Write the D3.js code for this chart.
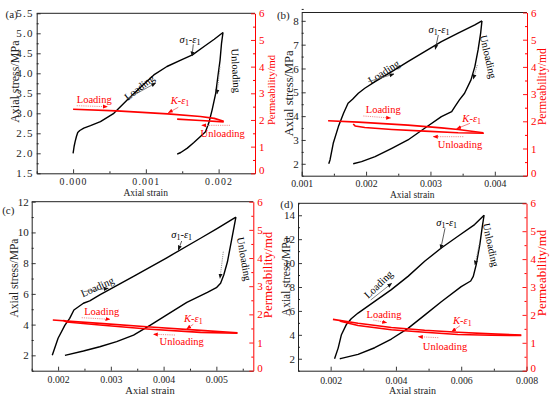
<!DOCTYPE html>
<html><head><meta charset="utf-8">
<script src="https://cdn.jsdelivr.net/npm/d3@7"></script>
<style>
body{margin:0;background:#fff}
svg{display:block}
text{font-family:"Liberation Serif","Times New Roman",serif}
</style>
</head><body>
<svg id="chart" width="550" height="397"></svg>
<script>
// ---------------- DATA (strain, axial stress MPa) / (strain, permeability md) ----------------
const aSigmaLoad = [[0,2.0],[0.000014,2.17],[0.000028,2.29],[0.000046,2.42],[0.000064,2.52],[0.000092,2.57],[0.000147,2.63],[0.000239,2.69],[0.000376,2.79],[0.00056,3.0],[0.000743,3.33],[0.000927,3.65],[0.00111,3.96],[0.00129,4.17],[0.00148,4.33],[0.00164,4.46],[0.0018,4.67],[0.00194,4.85],[0.00206,5.02]];
const aSigmaUnload = [[0.00206,5.02],[0.00204,4.75],[0.00202,4.33],[0.00199,3.92],[0.00196,3.5],[0.00191,3.08],[0.00187,2.79],[0.00182,2.54],[0.00175,2.42],[0.00166,2.27],[0.00157,2.13],[0.00148,2.02],[0.00143,1.98]];
const aKLoad = [[0,2.40],[0.0006,2.34],[0.0013,2.23],[0.00175,2.13],[0.00194,2.06],[0.00207,1.95]];
const aKUnload = [[0.00207,1.93],[0.00175,1.98],[0.00143,2.03]];

const bSigmaLoad = [[0.00142,2.0],[0.00144,2.16],[0.00149,2.86],[0.00157,3.56],[0.00165,4.12],[0.00172,4.54],[0.00179,4.71],[0.00188,4.96],[0.00198,5.17],[0.00214,5.45],[0.0024,5.87],[0.00265,6.29],[0.00291,6.71],[0.00317,7.13],[0.00343,7.48],[0.00369,7.83],[0.0038,8.0]];
const bSigmaUnload = [[0.0038,8.0],[0.00378,7.48],[0.00374,6.78],[0.00369,6.08],[0.00363,5.52],[0.00353,4.96],[0.00345,4.68],[0.00338,4.40],[0.00333,4.19],[0.00317,3.98],[0.00291,3.49],[0.00265,3.0],[0.0024,2.65],[0.00214,2.30],[0.00193,2.09],[0.0018,2.0]];
const bKLoad = [[0.00141,2.02],[0.00188,1.97],[0.00265,1.86],[0.00317,1.76],[0.00343,1.70],[0.00382,1.58]];
const bKUnload = [[0.00383,1.56],[0.00343,1.58],[0.00291,1.64],[0.0024,1.70],[0.00198,1.77],[0.00183,1.83],[0.0018,1.90]];

const cSigmaLoad = [[0.00189,2.0],[0.002,3.11],[0.00213,3.97],[0.00222,4.41],[0.0023,4.95],[0.00236,5.10],[0.00248,5.39],[0.0026,5.54],[0.00279,5.93],[0.00343,7.14],[0.00406,8.35],[0.0047,9.62],[0.00502,10.27],[0.00537,11.0]];
const cSigmaUnload = [[0.00537,11.0],[0.00533,10.27],[0.00527,9.18],[0.00521,8.09],[0.00514,7.23],[0.00508,6.69],[0.005,6.40],[0.00483,6.10],[0.00444,5.45],[0.00406,4.63],[0.00375,3.97],[0.00343,3.32],[0.00311,2.89],[0.00279,2.56],[0.00248,2.28],[0.00213,2.0]];
const cKLoad = [[0.0019,1.80],[0.00279,1.68],[0.00375,1.55],[0.0047,1.43],[0.0054,1.35]];
const cKUnload = [[0.0054,1.33],[0.0047,1.36],[0.00375,1.47],[0.00279,1.62],[0.00216,1.73],[0.0021,1.79]];

const dSigmaLoad = [[0.00212,2.0],[0.00223,2.89],[0.00233,4.01],[0.00248,4.85],[0.00263,5.35],[0.00284,5.82],[0.00335,6.80],[0.00386,7.78],[0.00437,8.89],[0.00488,10.15],[0.00539,11.26],[0.0059,12.24],[0.00641,13.22],[0.0067,14.0]];
const dSigmaUnload = [[0.0067,14.0],[0.00664,12.94],[0.00657,11.55],[0.00646,9.87],[0.00637,8.89],[0.00629,8.5],[0.006,8.03],[0.00539,6.77],[0.00488,5.65],[0.00437,4.54],[0.00386,3.65],[0.00335,2.92],[0.00284,2.36],[0.00233,2.03],[0.00228,2.0]];
const dKLoad = [[0.00207,1.84],[0.00284,1.70],[0.00386,1.55],[0.00488,1.45],[0.0059,1.38],[0.00692,1.32],[0.00784,1.28]];
const dKUnload = [[0.00784,1.26],[0.00692,1.27],[0.0059,1.30],[0.00488,1.38],[0.00386,1.47],[0.00284,1.62],[0.00233,1.76],[0.00228,1.80]];

// tick values
const aXTicks = [0, 0.001, 0.002];
const aYTicks = [1.5, 2.0, 2.5, 3.0, 3.5, 4.0, 4.5, 5.0, 5.5];
const bXTicks = [0.001, 0.002, 0.003, 0.004];
const bYTicks = [2, 3, 4, 5, 6, 7, 8];
const cXTicks = [0.002, 0.003, 0.004, 0.005];
const cYTicks = [2, 4, 6, 8, 10, 12];
const dXTicks = [0.002, 0.004, 0.006, 0.008];
const dYTicks = [2, 4, 6, 8, 10, 12, 14];
const kTicks = [0, 1, 2, 3, 4, 5, 6];

// ---------------- LAYOUT ----------------
const panels = [
  {label:"(a)", lab:[11.7,14.3], x0:36.7, x1:255, y0:13.3, y1:173.3, xd:[-0.0005,0.0025], yd:[1.5,5.5],
   xt:aXTicks, xstep:0.0005, yt:aYTicks, ystep:0.25, yfmt:".1f", tickLS:1.2, xpad:5,
   sl:aSigmaLoad, su:aSigmaUnload, kl:aKLoad, ku:aKUnload,
   yTitle:[15,81.7,12], pTitle:[271,90,10.5], xTitle:[145.7,192.5,9.5],
   ann:[
     {t:"sig", x:190, y:39.5},
     {a:"blk", p:[193.3,44.3,192,56]},
     {t:"Loading", x:139.3, y:87.3, r:-38, c:"#000"},
     {a:"gray", p:[126.7,99,155.7,83]},
     {t:"Unloading", x:236, y:70.7, r:87, c:"#000"},
     {a:"grayDot", p:[220,66.7,217,94]},
     {t:"Loading", x:94.3, y:99, r:0, c:"#f00"},
     {a:"redDot", p:[76.7,105.7,107.3,106.7]},
     {t:"K", x:180, y:100},
     {a:"red", p:[178.3,107.3,168.3,112.7]},
     {t:"Unloading", x:222.7, y:133.3, r:0, c:"#f00"},
     {a:"redDot", p:[230,125.3,201.7,125.3]}
   ]},
  {label:"(b)", lab:[283.3,15], x0:301.7, x1:527, y0:12.5, y1:175.7, xd:[0.001,0.0045], yd:[1.5,8.35],
   xt:bXTicks, xstep:0.0005, yt:bYTicks, ystep:0.5, yfmt:"d", tickLS:0, xpad:4,
   sl:bSigmaLoad, su:bSigmaUnload, kl:bKLoad, ku:bKUnload,
   yTitle:[289,93.3,12.5], pTitle:[541.7,86.7,11.5], xTitle:[412.3,195,9.5],
   ann:[
     {t:"sig", x:439, y:29.3},
     {a:"blk", p:[438.3,35,435.3,49.3]},
     {t:"Loading", x:383.7, y:71.7, r:-33, c:"#000"},
     {a:"gray", p:[368.3,81.7,394,74]},
     {t:"Unloading", x:488.3, y:56.7, r:77, c:"#000"},
     {a:"grayDot", p:[477.3,65,473.3,79]},
     {t:"Loading", x:383.3, y:109.3, r:0, c:"#f00"},
     {a:"redDot", p:[363.3,116,390.7,118]},
     {t:"K", x:471.7, y:118.3},
     {a:"red", p:[470,123.3,456.7,128.7]},
     {t:"Unloading", x:460, y:144, r:0, c:"#f00"},
     {a:"redDot", p:[463.3,136.7,433.3,136.7]}
   ]},
  {label:"(c)", lab:[8.3,210], x0:31.7, x1:253.3, y0:201.7, y1:370.7, xd:[0.0015,0.0057], yd:[1,12],
   xt:cXTicks, xstep:0.0005, yt:cYTicks, ystep:1, yfmt:"d", tickLS:0, xpad:5,
   sl:cSigmaLoad, su:cSigmaUnload, kl:cKLoad, ku:cKUnload,
   yTitle:[14,278,11.5], pTitle:[267,275,13], xTitle:[150,390,10.5],
   ann:[
     {t:"sig", x:181.7, y:234.3},
     {a:"blk", p:[181.7,241,178.3,250]},
     {t:"Loading", x:97.3, y:286.7, r:-24, c:"#000"},
     {a:"gray", p:[83.3,291.7,108.3,288.3]},
     {t:"Unloading", x:244.3, y:259, r:80, c:"#000"},
     {a:"grayDot", p:[223.3,251.7,220,278.3]},
     {t:"Loading", x:101.7, y:311, r:0, c:"#f00"},
     {a:"redDot", p:[81.7,317.7,110,319.3]},
     {t:"K", x:193.3, y:318.3},
     {a:"red", p:[193.3,324.3,186.7,329]},
     {t:"Unloading", x:181.7, y:341.7, r:0, c:"#f00"},
     {a:"redDot", p:[175,335,153.3,334.3]}
   ]},
  {label:"(d)", lab:[286.7,204.3], x0:298, x1:526.5, y0:203.3, y1:370.7, xd:[0.001,0.008], yd:[1,15],
   xt:dXTicks, xstep:0.001, yt:dYTicks, ystep:1, yfmt:"d", tickLS:0, xpad:6,
   sl:dSigmaLoad, su:dSigmaUnload, kl:dKLoad, ku:dKUnload,
   yTitle:[285.7,276.7,11.5], pTitle:[541.7,273,13], xTitle:[412.5,390.5,10],
   ann:[
     {t:"sig", x:446.7, y:222.3},
     {a:"blk", p:[445,228.3,440.7,249]},
     {t:"Loading", x:378.3, y:284.3, r:-44, c:"#000"},
     {a:"gray", p:[370.7,300,391.7,283.3]},
     {t:"Unloading", x:491, y:245, r:78, c:"#000"},
     {a:"grayDot", p:[479,245,475,265]},
     {t:"Loading", x:384, y:314, r:0, c:"#f00"},
     {a:"redDot", p:[373.3,320,386.7,322.7]},
     {t:"K", x:462.3, y:320},
     {a:"red", p:[460,325.7,451.7,331.7]},
     {t:"Unloading", x:445, y:346.7, r:0, c:"#f00"},
     {a:"redDot", p:[438.3,337.7,418.3,336.7]}
   ]}
];

const svg = d3.select("#chart");
const defs = svg.append("defs");
function marker(id, color){
  defs.append("marker").attr("id",id).attr("viewBox","0 0 10 10").attr("refX",9).attr("refY",5)
    .attr("markerWidth",5).attr("markerHeight",5).attr("markerUnits","userSpaceOnUse").attr("orient","auto")
    .append("path").attr("d","M0,1 L10,5 L0,9 z").attr("fill",color);
}
marker("mBlk","#111"); marker("mRed","#f00");
const arrowStyles = {
  blk:{stroke:"#333", dash:null, m:"mBlk", w:0.8},
  gray:{stroke:"#666", dash:null, m:"mBlk", w:0.8},
  grayDot:{stroke:"#888", dash:"1.2,1", m:"mBlk", w:0.9},
  red:{stroke:"#f06060", dash:null, m:"mRed", w:0.8},
  redDot:{stroke:"#f08080", dash:"1.2,1", m:"mRed", w:0.9}
};

function rangeExcl(d0, d1, step, majors){
  const out = [];
  const n = Math.round((d1 - d0)/step);
  for(let i=0;i<=n;i++){
    const v = d0 + i*step;
    if(!majors.some(m => Math.abs(m - v) < step*1e-3)) out.push(v);
  }
  return out;
}

panels.forEach(p => {
  const g = svg.append("g");
  const x = d3.scaleLinear().domain(p.xd).range([p.x0, p.x1]);
  const y = d3.scaleLinear().domain(p.yd).range([p.y1, p.y0]);
  const yr = d3.scaleLinear().domain([0,6]).range([p.y1, p.y0]);

  const styleAxis = (sel, color, fs) => {
    sel.attr("font-family", null).attr("font-size", null);
    sel.selectAll("path.domain").attr("stroke", color).attr("stroke-width", 1);
    sel.selectAll(".tick line").attr("stroke", color).attr("stroke-width", 0.9);
    sel.selectAll(".tick text").attr("fill", color).style("font-size", fs + "px")
      .style("font-family", '"Liberation Serif","Times New Roman",serif')
      .style("letter-spacing", p.tickLS + "px");
  };

  // top frame
  g.append("line").attr("x1", p.x0).attr("x2", p.x1).attr("y1", p.y0).attr("y2", p.y0)
    .attr("stroke", "#222").attr("stroke-width", 1);

  // minor ticks
  const xMinor = rangeExcl(p.xd[0], p.xd[1], p.xstep, p.xt);
  const yMinor = rangeExcl(p.yd[0], p.yd[1], p.ystep, p.yt);
  const kMinor = rangeExcl(0, 6, 0.5, kTicks);
  g.append("g").attr("transform", `translate(0,${p.y1})`)
    .call(d3.axisBottom(x).tickValues(xMinor).tickFormat("").tickSize(-2).tickSizeOuter(0))
    .call(s => { s.select(".domain").remove(); s.selectAll("line").attr("stroke","#222"); });
  g.append("g").attr("transform", `translate(${p.x0},0)`)
    .call(d3.axisLeft(y).tickValues(yMinor).tickFormat("").tickSize(-2).tickSizeOuter(0))
    .call(s => { s.select(".domain").remove(); s.selectAll("line").attr("stroke","#222"); });
  g.append("g").attr("transform", `translate(${p.x1},0)`)
    .call(d3.axisRight(yr).tickValues(kMinor).tickFormat("").tickSize(-2).tickSizeOuter(0))
    .call(s => { s.select(".domain").remove(); s.selectAll("line").attr("stroke","#f00"); });

  // major axes
  g.append("g").attr("transform", `translate(0,${p.y1})`)
    .call(d3.axisBottom(x).tickValues(p.xt).tickFormat(d3.format(".3f")).tickSize(-4).tickSizeOuter(0).tickPadding(p.xpad))
    .call(s => styleAxis(s, "#222", 9.8));
  g.append("g").attr("transform", `translate(${p.x0},0)`)
    .call(d3.axisLeft(y).tickValues(p.yt).tickFormat(d3.format(p.yfmt)).tickSize(-4).tickSizeOuter(0).tickPadding(3))
    .call(s => styleAxis(s, "#222", 11));
  g.append("g").attr("transform", `translate(${p.x1},0)`)
    .call(d3.axisRight(yr).tickValues(kTicks).tickFormat(d3.format("d")).tickSize(-4).tickSizeOuter(0).tickPadding(4))
    .call(s => styleAxis(s, "#f00", 11))
    .call(s => s.selectAll(".tick text").filter(d => d === 0).attr("dy", "0.05em"));

  // curves
  const line = d3.line().x(d => x(d[0])).y(d => y(d[1]));
  const lineK = d3.line().x(d => x(d[0])).y(d => yr(d[1]));
  [p.sl, p.su].forEach(s => g.append("path").attr("d", line(s)).attr("fill","none")
      .attr("stroke","#000").attr("stroke-width",1.4).attr("stroke-linejoin","round"));
  [p.kl, p.ku].forEach(s => g.append("path").attr("d", lineK(s)).attr("fill","none")
      .attr("stroke","#f00").attr("stroke-width",1.6).attr("stroke-linejoin","round"));

  // titles
  g.append("text").attr("transform", `translate(${p.yTitle[0]},${p.yTitle[1]}) rotate(-90)`)
    .attr("text-anchor","middle").attr("dy","0.35em").style("font-size", p.yTitle[2]+"px").attr("fill","#222")
    .text("Axial stress/MPa");
  g.append("text").attr("transform", `translate(${p.pTitle[0]},${p.pTitle[1]}) rotate(-90)`)
    .attr("text-anchor","middle").attr("dy","0.35em").style("font-size", p.pTitle[2]+"px").attr("fill","#f00")
    .text("Permeability/md");
  g.append("text").attr("x", p.xTitle[0]).attr("y", p.xTitle[1]).attr("text-anchor","middle")
    .attr("dy","0.35em").style("font-size", p.xTitle[2]+"px").attr("fill","#222").text("Axial strain");
  g.append("text").attr("x", p.lab[0]).attr("y", p.lab[1]).attr("text-anchor","middle")
    .attr("dy","0.35em").style("font-size","11px").attr("fill","#222").text(p.label);

  // annotations
  p.ann.forEach(a => {
    if (a.a) {
      const st = arrowStyles[a.a];
      g.append("line").attr("x1",a.p[0]).attr("y1",a.p[1]).attr("x2",a.p[2]).attr("y2",a.p[3])
        .attr("stroke",st.stroke).attr("stroke-width",st.w).attr("stroke-dasharray",st.dash)
        .attr("marker-end",`url(#${st.m})`);
    } else if (a.t === "sig" || a.t === "K") {
      const t = g.append("text").attr("x",a.x).attr("y",a.y).attr("text-anchor","middle").attr("dy","0.35em")
        .style("font-size","10.5px").attr("fill", a.t === "K" ? "#f00" : "#000");
      t.append("tspan").style("font-style","italic").text(a.t === "K" ? "K" : "σ");
      if (a.t === "sig") t.append("tspan").attr("dy",2).style("font-size","8px").text("1");
      t.append("tspan").attr("dy", a.t === "sig" ? -2 : 0).text("-");
      t.append("tspan").style("font-style","italic").text("ε");
      t.append("tspan").attr("dy",2).style("font-size","8px").text("1");
    } else {
      g.append("text").attr("transform",`translate(${a.x},${a.y}) rotate(${a.r})`)
        .attr("text-anchor","middle").attr("dy","0.35em").style("font-size","10.5px").attr("fill",a.c)
        .text(a.t);
    }
  });
});
</script>
</body></html>
